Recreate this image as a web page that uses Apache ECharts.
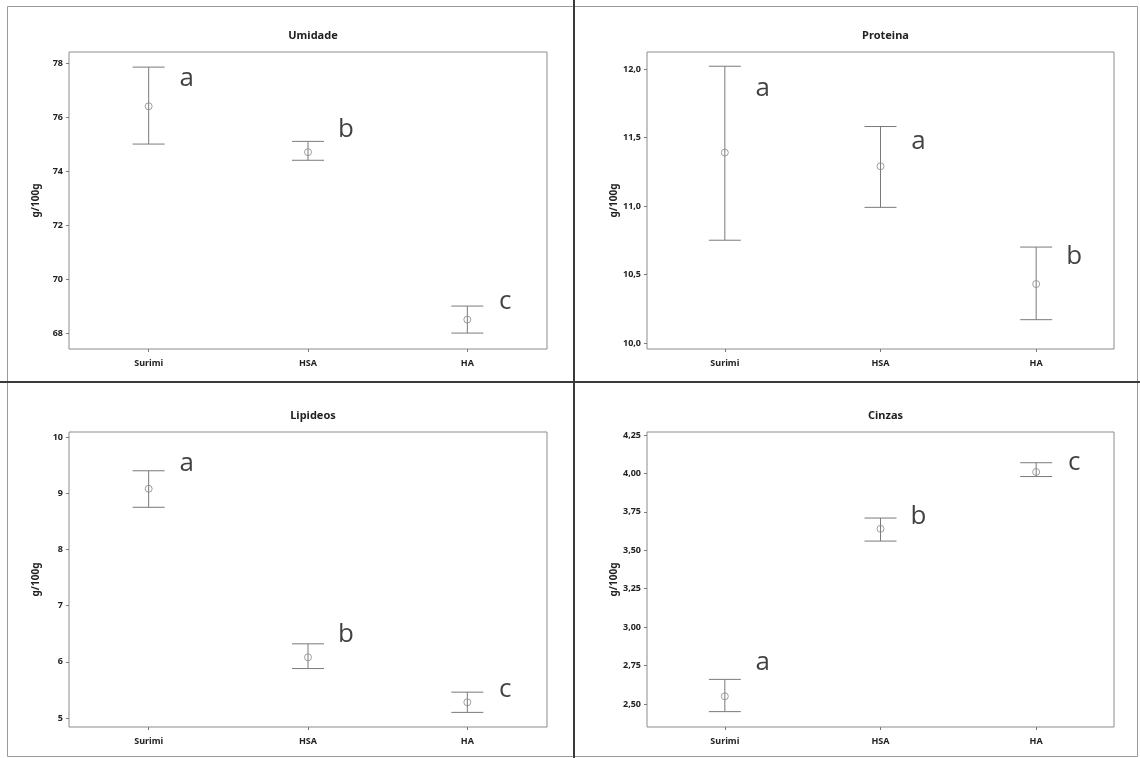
<!DOCTYPE html>
<html>
<head>
<meta charset="utf-8">
<script src="https://cdn.jsdelivr.net/npm/echarts@6/dist/echarts.min.js"></script>
<style>
html,body{margin:0;padding:0;background:#fff;}
#chart{width:1140px;height:758px;}
</style>
</head>
<body>
<div id="chart"></div>
<script>
// ---- data ----
const categories = ['Surimi', 'HSA', 'HA'];
const panelTitles = ['Umidade', 'Proteina', 'Lipideos', 'Cinzas'];
const yAxisName = 'g/100g';

const umidadeMean = [76.4, 74.7, 68.5];
const umidadeLow  = [75.0, 74.4, 68.0];
const umidadeHigh = [77.85, 75.1, 69.0];
const umidadeLetters = ['a', 'b', 'c'];
const umidadeLetterY = [77.44, 75.52, 69.15];
const umidadeTicks = [68, 70, 72, 74, 76, 78];

const proteinaMean = [11.39, 11.29, 10.43];
const proteinaLow  = [10.75, 10.99, 10.17];
const proteinaHigh = [12.02, 11.58, 10.70];
const proteinaLetters = ['a', 'a', 'b'];
const proteinaLetterY = [11.86, 11.47, 10.63];
const proteinaTicks = [10.0, 10.5, 11.0, 11.5, 12.0];

const lipideosMean = [9.08, 6.08, 5.28];
const lipideosLow  = [8.75, 5.88, 5.10];
const lipideosHigh = [9.40, 6.32, 5.46];
const lipideosLetters = ['a', 'b', 'c'];
const lipideosLetterY = [9.52, 6.48, 5.50];
const lipideosTicks = [5, 6, 7, 8, 9, 10];

const cinzasMean = [2.55, 3.64, 4.01];
const cinzasLow  = [2.45, 3.56, 3.98];
const cinzasHigh = [2.66, 3.71, 4.07];
const cinzasLetters = ['a', 'b', 'c'];
const cinzasLetterY = [2.77, 3.72, 4.07];
const cinzasTicks = [2.50, 2.75, 3.00, 3.25, 3.50, 3.75, 4.00, 4.25];

// ---- layout ----
const panels = [
  {mean: umidadeMean, low: umidadeLow, high: umidadeHigh, letters: umidadeLetters, letterY: umidadeLetterY, ticks: umidadeTicks, dec: 0,
   min: 67.41, max: 78.41, grid: {left: 69, top: 52, width: 478, height: 297}},
  {mean: proteinaMean, low: proteinaLow, high: proteinaHigh, letters: proteinaLetters, letterY: proteinaLetterY, ticks: proteinaTicks, dec: 1,
   min: 9.956, max: 12.124, grid: {left: 647, top: 52, width: 467, height: 297}},
  {mean: lipideosMean, low: lipideosLow, high: lipideosHigh, letters: lipideosLetters, letterY: lipideosLetterY, ticks: lipideosTicks, dec: 0,
   min: 4.84, max: 10.09, grid: {left: 69, top: 432, width: 478, height: 295}},
  {mean: cinzasMean, low: cinzasLow, high: cinzasHigh, letters: cinzasLetters, letterY: cinzasLetterY, ticks: cinzasTicks, dec: 2,
   min: 2.35, max: 4.27, grid: {left: 647, top: 432, width: 467, height: 295}}
];

const lineColor = '#7a7a7a';
const textColor = '#222';
const fontFam = '"Noto Sans", "DejaVu Sans", sans-serif';

const option = {
  backgroundColor: '#ffffff',
  animation: false,
  title: [], grid: [], xAxis: [], yAxis: [], series: [],
  graphic: [
    {type: 'rect', shape: {x: 7.5, y: 6.5, width: 1130, height: 750}, style: {fill: 'none', stroke: '#9a9a9a', lineWidth: 1}, silent: true},
    {type: 'line', shape: {x1: 574, y1: 0, x2: 574, y2: 758}, style: {stroke: '#3a3a3a', lineWidth: 2}, silent: true},
    {type: 'line', shape: {x1: 0, y1: 382, x2: 1140, y2: 382}, style: {stroke: '#3a3a3a', lineWidth: 2}, silent: true}
  ]
};

panels.forEach((p, i) => {
  const g = p.grid;
  option.grid.push({left: g.left, top: g.top, width: g.width, height: g.height, show: true,
    borderColor: '#8c8c8c', borderWidth: 1, backgroundColor: 'transparent', containLabel: false});
  option.title.push({text: panelTitles[i], left: g.left + g.width / 2, top: g.top - 27, textAlign: 'center',
    textStyle: {fontSize: 11, fontWeight: 'bold', color: textColor, fontFamily: fontFam}});
  option.xAxis.push({type: 'category', gridIndex: i, data: categories, boundaryGap: true,
    axisLine: {show: false}, axisTick: {show: true, alignWithLabel: true, length: 3, lineStyle: {color: lineColor}},
    axisLabel: {color: textColor, fontSize: 9, fontWeight: 'bold', margin: 10, fontFamily: fontFam},
    splitLine: {show: false}});
  option.yAxis.push({type: 'value', gridIndex: i, min: p.min, max: p.max,
    name: yAxisName, nameLocation: 'middle', nameGap: 28, nameRotate: 90,
    nameTextStyle: {fontSize: 10, fontWeight: 'bold', color: textColor, fontFamily: fontFam},
    axisLine: {show: false},
    axisTick: {show: true, length: 3, lineStyle: {color: lineColor}, customValues: p.ticks},
    axisLabel: {color: textColor, fontSize: 9, fontWeight: 'bold', margin: 6, fontFamily: fontFam, customValues: p.ticks,
      formatter: v => Number(v).toFixed(p.dec).replace('.', ',')},
    splitLine: {show: false}});

  const barData = categories.map((c, k) => [k, p.low[k], p.high[k]]);
  option.series.push({
    type: 'custom', xAxisIndex: i, yAxisIndex: i, data: barData, silent: true,
    renderItem: (params, api) => {
      const x = api.value(0);
      const lo = api.coord([x, api.value(1)]);
      const hi = api.coord([x, api.value(2)]);
      const hw = 16;
      const st = {stroke: lineColor, lineWidth: 1};
      return {type: 'group', children: [
        {type: 'line', shape: {x1: lo[0], y1: lo[1], x2: hi[0], y2: hi[1]}, style: st},
        {type: 'line', shape: {x1: hi[0] - hw, y1: hi[1], x2: hi[0] + hw, y2: hi[1]}, style: st},
        {type: 'line', shape: {x1: lo[0] - hw, y1: lo[1], x2: lo[0] + hw, y2: lo[1]}, style: st}
      ]};
    }
  });
  option.series.push({
    type: 'scatter', xAxisIndex: i, yAxisIndex: i, silent: true, z: 3,
    data: categories.map((c, k) => [k, p.mean[k]]),
    symbol: 'circle', symbolSize: 7,
    itemStyle: {color: 'rgba(0,0,0,0)', borderColor: '#888888', borderWidth: 1}
  });
  option.series.push({
    type: 'scatter', xAxisIndex: i, yAxisIndex: i, silent: true, z: 4,
    data: categories.map((c, k) => [k, p.letterY[k]]),
    symbolSize: 1, itemStyle: {color: 'rgba(0,0,0,0)'},
    label: {show: true, position: 'inside', offset: [38, 0],
      formatter: prm => p.letters[prm.dataIndex],
      fontSize: 26, color: '#111', fontFamily: '"Open Sans", "Noto Sans", sans-serif'}
  });
});

const chart = echarts.init(document.getElementById('chart'), null, {renderer: 'canvas'});
chart.setOption(option);
</script>
</body>
</html>
